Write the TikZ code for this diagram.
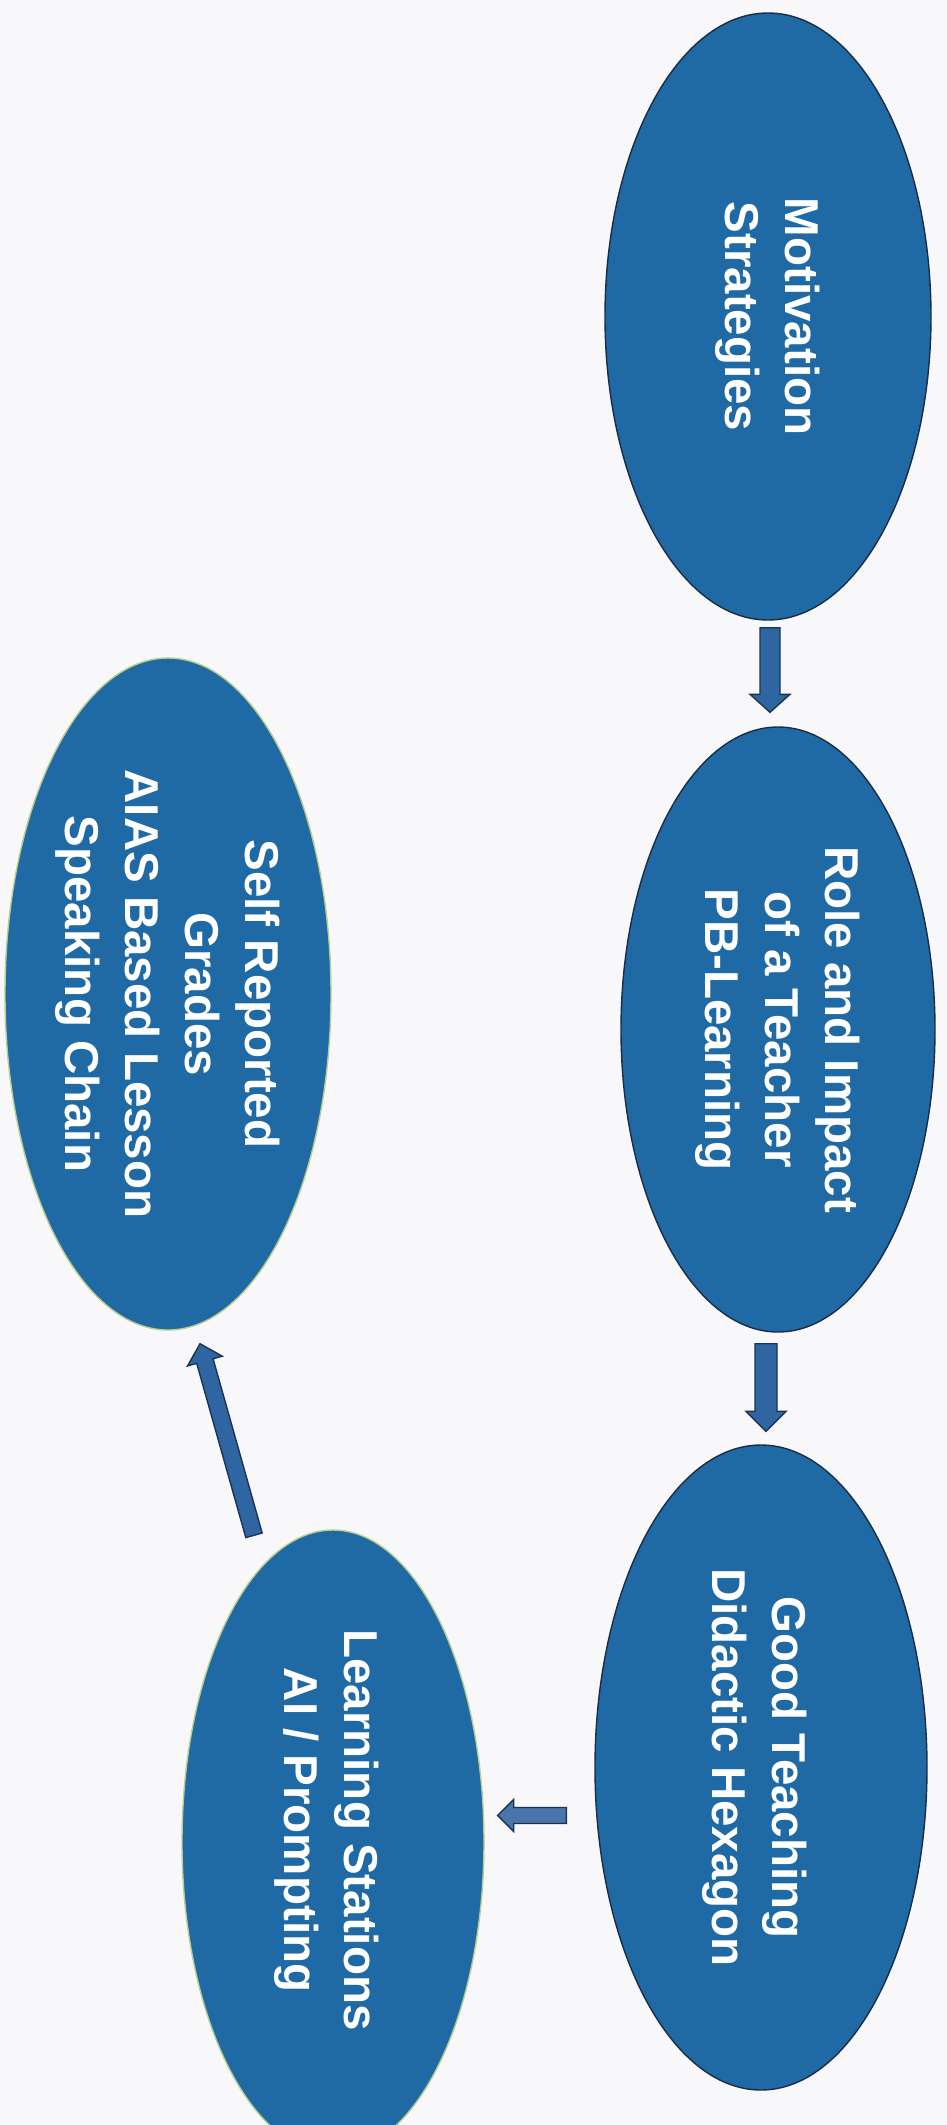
\documentclass[tikz,border=0pt]{standalone}
\usepackage{fontspec}
\setmainfont{Liberation Sans}
\usetikzlibrary{calc,shapes.geometric}
\definecolor{ellfill}{HTML}{1F6AA5}
\definecolor{ellline}{HTML}{1B2C47}
\definecolor{ellpale}{HTML}{B9CF8E}
\definecolor{arrfill}{HTML}{2F66A1}
\definecolor{arrfilltwo}{HTML}{4A74AC}
\definecolor{arrline}{HTML}{1C3354}
\definecolor{bgcol}{HTML}{F8F8FA}
\tikzset{
  ell/.style={ellipse, fill=ellfill, draw=ellline, line width=1.4pt, inner sep=0pt},
  ellp/.style={ell, draw=ellpale},
  lbl/.style={text=white, align=center, rotate=-90, inner sep=0pt,
              font=\fontsize{47.5}{60}\selectfont\bfseries},
  barrow/.style={draw=arrline, line width=1.4pt, line join=miter}
}
% start, end, shaft half width, head half width, head length
\newcommand\blockarrow[6][arrfill]{%
  \draw[barrow, fill=#1] let \p1=(#2), \p2=(#3),
    \n1={atan2(\y2-\y1,\x2-\x1)}, \n2={veclen(\x2-\x1,\y2-\y1)-#6}
  in ($(\p1)+(\n1+90:#4pt)$)
  -- ($(\p1)+(\n1:{\n2*1pt})+(\n1+90:#4pt)$)
  -- ($(\p1)+(\n1:{\n2*1pt})+(\n1+90:#5pt)$)
  -- (\p2)
  -- ($(\p1)+(\n1:{\n2*1pt})+(\n1-90:#5pt)$)
  -- ($(\p1)+(\n1:{\n2*1pt})+(\n1-90:#4pt)$)
  -- ($(\p1)+(\n1-90:#4pt)$) -- cycle;}
\begin{document}
\begin{tikzpicture}[x=1pt, y=-1pt]
  \useasboundingbox (0,0) rectangle (947,2125);
  \clip (0,0) rectangle (947,2125);
  \fill[bgcol] (0,0) rectangle (947,2125);

  % ellipses
  \node[ell, minimum width=326pt, minimum height=607pt] (mot) at (768,316.5) {};
  \node[ell, minimum width=314pt, minimum height=605pt] (role) at (778,1029.5) {};
  \node[ell, minimum width=332pt, minimum height=645pt] (good) at (761,1767.5) {};
  \node[ellp, minimum width=302pt, minimum height=624pt] (learn) at (333,1842) {};
  \node[ellp, minimum width=326pt, minimum height=672pt] (self) at (168,994) {};

  % labels
  \node[lbl] (motT) at (mot) {Motivation\\Strategies};
  \node[lbl] (roleT) at (role) {Role and Impact\\of a Teacher\\PB-Learning};
  \node[lbl] (goodT) at ($(good)+(-6,0)$) {Good Teaching\\Didactic Hexagon};
  \node[lbl] (learnT) at ($(learn)+(-6,-12)$) {Learning Stations\\AI / Prompting};
  \node[lbl] (selfT) at (self) {Self Reported\\Grades\\AIAS Based Lesson\\Speaking Chain};

  % connectors
  \blockarrow{$(mot.south)+(2,7)$}{$(mot.south |- role.north)+(2,-14)$}{10}{20}{18}
  \blockarrow{$(role.south)+(-12,11)$}{$(role.south |- good.north)+(-12,-13)$}{11}{20}{20}
  \blockarrow[arrfilltwo]{$(good.west)+(-28,48)$}{$(learn.east |- good.west)+(13,48)$}{8}{16}{16}
  \blockarrow{$(learn.north)+(-79,6)$}{$(self.south)+(32,13)$}{8.5}{18}{18}
\end{tikzpicture}
\end{document}
